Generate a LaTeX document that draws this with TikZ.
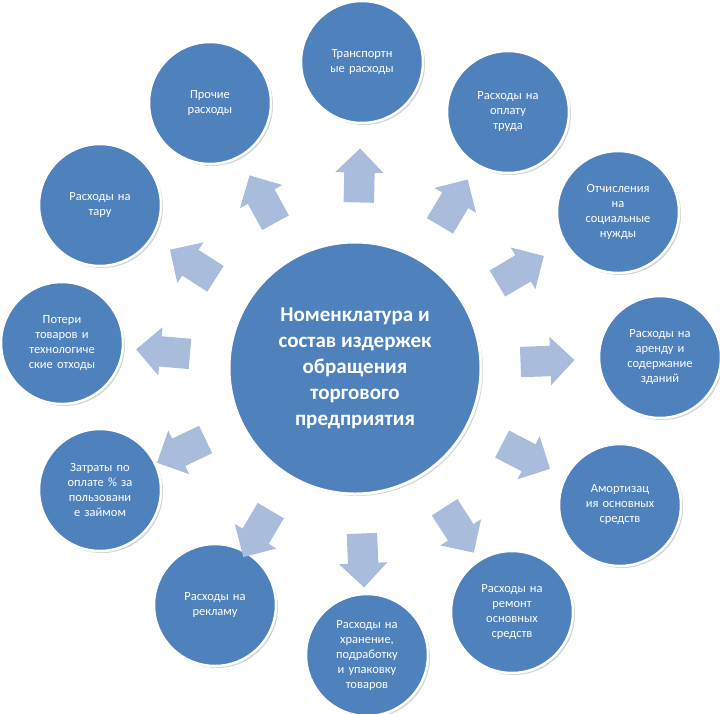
\documentclass[tikz,border=0pt]{standalone}
\usepackage{fontspec}
\setmainfont{Carlito}
\usetikzlibrary{shapes.arrows,shadows,calc}
\definecolor{cfill}{HTML}{4F81BD}
\definecolor{afill}{HTML}{A9BCDC}
\tikzset{
 outer/.style={circle,fill=cfill,draw=white,line width=2.5pt,minimum size=122pt,inner sep=0pt,text=white,font=\fontsize{12.5}{15}\selectfont,align=center,text width=92pt,drop shadow={opacity=0.35,shadow xshift=2pt,shadow yshift=-2pt}},
 center/.style={circle,fill=cfill,draw=white,line width=3pt,minimum size=252pt,text=white,font=\fontsize{21}{26}\selectfont\bfseries,align=center,drop shadow={opacity=0.35,shadow xshift=2pt,shadow yshift=-2pt}},
 arr/.style={single arrow,fill=afill,draw=none,minimum height=54pt,single arrow head extend=9pt,inner xsep=0pt,inner ysep=15pt}
}
\begin{document}
\begin{tikzpicture}[x=1pt,y=-1pt]
\useasboundingbox (0,0) rectangle (720,713);
\node[center] (c) at (355,368) {Номенклатура и\\состав издержек\\обращения\\торгового\\предприятия};
\foreach \k/\x/\y/\t in {
 1/362/62/{Транспортн\\ые расходы},
 2/508/112/{Расходы на\\оплату\\труда},
 3/618/212/{Отчисления\\на\\социальные\\нужды},
 4/660/357/{Расходы на\\аренду и\\содержание\\зданий},
 5/620/505/{Амортизац\\ия основных\\средств},
 6/512/612/{Расходы на\\ремонт\\основных\\средств},
 7/367/655/{Расходы на\\хранение,\\подработку\\и упаковку\\товаров},
 8/215/605/{Расходы на\\рекламу},
 9/100/490/{Затраты по\\оплате \% за\\пользовани\\е займом},
 10/62/343/{Потери\\товаров и\\технологиче\\ские отходы},
 11/100/205/{Расходы на\\тару},
 12/210/103/{Прочие\\расходы}}
{
 \node[outer] (o\k) at (\x,\y) {\t};
 \path let \p1=($(o\k)-(c)$), \n1={atan2(\y1,\x1)} in
   node[arr,rotate=\n1] (a\k) at ($(c)!185pt!(o\k)$) {};
}
\end{tikzpicture}
\end{document}
